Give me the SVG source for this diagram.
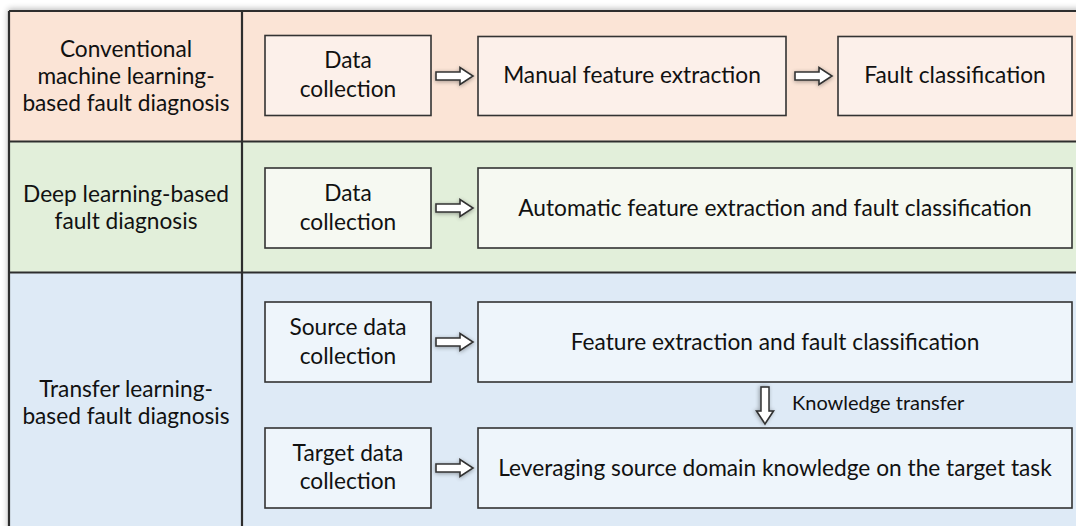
<svg xmlns="http://www.w3.org/2000/svg" width="1076" height="526" viewBox="0 0 1076 526">
<defs>
<style>
.t{font-family:Lato,"Liberation Sans",sans-serif;font-size:22.7px;fill:#111;text-anchor:middle}
.s{font-family:Lato,"Liberation Sans",sans-serif;font-size:20px;fill:#111}
.box{stroke:#333;stroke-width:1.6}
.b1{fill:#FCF0EA}.b2{fill:#F6F9F2}.b3{fill:#EEF5FB}
.arr{fill:#fff;stroke:#333;stroke-width:1.6;stroke-linejoin:miter;filter:url(#sh)}
.line{stroke:#2e2e2e;stroke-width:2.2;fill:none}
</style>
<filter id="sh" x="-30%" y="-30%" width="160%" height="160%">
<feGaussianBlur in="SourceAlpha" stdDeviation="2"/>
<feOffset dx="0" dy="1" result="b"/>
<feComponentTransfer><feFuncA type="linear" slope="0.35"/></feComponentTransfer>
<feMerge><feMergeNode/><feMergeNode in="SourceGraphic"/></feMerge>
</filter>
<filter id="fs" x="-5%" y="-5%" width="110%" height="110%">
<feGaussianBlur in="SourceAlpha" stdDeviation="3"/>
<feOffset dx="-1" dy="-2"/>
<feComponentTransfer><feFuncA type="linear" slope="0.3"/></feComponentTransfer>
<feMerge><feMergeNode/><feMergeNode in="SourceGraphic"/></feMerge>
</filter>
<path id="ra" d="M0,-4 H24 V-8.5 L37,0 L24,8.5 V4 H0 Z"/>
</defs>
<rect width="1076" height="526" fill="#fff"/>
<g id="frame">
<rect x="9" y="11" width="1075" height="530" fill="#fff" filter="url(#fs)"/>
<rect x="9" y="11" width="1075" height="131" fill="#FBE4D6"/>
<rect x="9" y="142" width="1075" height="131" fill="#E2EFDA"/>
<rect x="9" y="273" width="1075" height="260" fill="#DEEAF6"/>
<path class="line" d="M9,11 H1080 M9,11 V530 M9,141.5 H1080 M9,272.5 H1080 M242,11 V530"/>
</g>
<g id="label1">
<text class="t" x="126" y="57">Conventional</text>
<text class="t" x="126" y="84">machine learning-</text>
<text class="t" x="126" y="111">based fault diagnosis</text>
</g>
<g id="label2">
<text class="t" x="126" y="202">Deep learning-based</text>
<text class="t" x="126" y="229">fault diagnosis</text>
</g>
<g id="label3">
<text class="t" x="126" y="397">Transfer learning-</text>
<text class="t" x="126" y="424">based fault diagnosis</text>
</g>
<g id="r1-data">
<rect class="box b1" x="265" y="35.5" width="166" height="80"/>
<text class="t" x="348" y="68">Data</text>
<text class="t" x="348" y="97">collection</text>
</g>
<g id="r1-manual">
<rect class="box b1" x="478" y="36.5" width="308" height="79"/>
<text class="t" x="632" y="83">Manual feature extraction</text>
</g>
<g id="r1-fault">
<rect class="box b1" x="838" y="36.5" width="234" height="79"/>
<text class="t" x="955" y="83">Fault classification</text>
</g>
<g id="r2-data">
<rect class="box b2" x="265" y="168" width="166" height="80"/>
<text class="t" x="348" y="201">Data</text>
<text class="t" x="348" y="230">collection</text>
</g>
<g id="r2-auto">
<rect class="box b2" x="478" y="168" width="594" height="80"/>
<text class="t" x="775" y="216">Automatic feature extraction and fault classification</text>
</g>
<g id="r3-source">
<rect class="box b3" x="265" y="302" width="166" height="80"/>
<text class="t" x="348" y="335">Source data</text>
<text class="t" x="348" y="364">collection</text>
</g>
<g id="r3-feature">
<rect class="box b3" x="478" y="302" width="594" height="80"/>
<text class="t" x="775" y="350">Feature extraction and fault classification</text>
</g>
<g id="r3-target">
<rect class="box b3" x="265" y="428" width="166" height="80"/>
<text class="t" x="348" y="461">Target data</text>
<text class="t" x="348" y="489">collection</text>
</g>
<g id="r3-leverage">
<rect class="box b3" x="478" y="428" width="594" height="80"/>
<text class="t" x="775" y="476">Leveraging source domain knowledge on the target task</text>
</g>
<g id="connectors">
<use href="#ra" class="arr" transform="translate(436,76)"/>
<use href="#ra" class="arr" transform="translate(795,76)"/>
<use href="#ra" class="arr" transform="translate(436,208)"/>
<use href="#ra" class="arr" transform="translate(436,342)"/>
<use href="#ra" class="arr" transform="translate(436,468)"/>
<use href="#ra" class="arr" transform="translate(765,387) rotate(90)"/>
<text class="s" x="792" y="410">Knowledge transfer</text>
</g>
</svg>
